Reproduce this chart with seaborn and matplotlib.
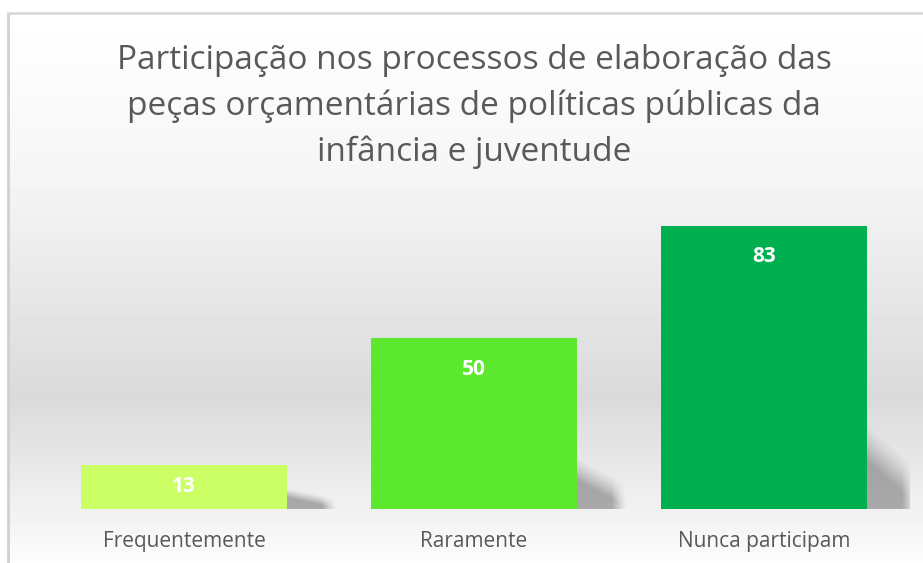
import numpy as np
import pandas as pd
import seaborn as sns
import matplotlib.pyplot as plt

# chart data
categories = ["Frequentemente", "Raramente", "Nunca participam"]
values = [13, 50, 83]
bar_colors = ["#CCFF66", "#5CE82E", "#00B050"]
title = ("Participação nos processos de elaboração das\n"
         "peças orçamentárias de políticas públicas da\n"
         "infância e juventude")

sns.set_theme(style="white")
plt.rcParams["font.family"] = ["Open Sans", "DejaVu Sans"]

W, H = 923, 563
fig = plt.figure(figsize=(W / 100, H / 100), dpi=100)

# background: vertical gray gradient inside the chart frame
bg = fig.add_axes([0, 0, 1, 1], zorder=0)
stops_y = np.array([0, 13, 180, 397, 563])
stops_v = np.array([1.0, 1.0, 0.961, 0.855, 0.99])
yy = np.arange(H)
shade = np.interp(yy, stops_y, stops_v)
img = np.repeat(shade[:, None], W, axis=1)
img[:13, :] = 1.0
img[:, :8] = 1.0
bg.imshow(img, cmap="gray", vmin=0, vmax=1, extent=(0, W, H, 0), aspect="auto")
bg.plot([8, 8], [13, H], color="#D0D0D0", lw=2)
bg.plot([8, W], [13, 13], color="#D9D9D9", lw=2)
bg.set_xlim(0, W)
bg.set_ylim(H, 0)
bg.axis("off")

left, right, base = 39, 909, 509
ax = fig.add_axes([left / W, (H - base) / H, (right - left) / W, 307 / H], zorder=1)
ax.patch.set_alpha(0)

df = pd.DataFrame({"Categoria": categories, "Valor": values})
sns.barplot(data=df, x="Categoria", y="Valor", hue="Categoria",
            palette=bar_colors, width=0.71, saturation=1, legend=False,
            linewidth=0, ax=ax, zorder=3)

# soft, blurred shadow to the lower right of each bar
u = np.linspace(0, 1, 80)[None, :]       # 0 at bar edge -> 1 far right
v = np.linspace(1, 0, 80)[:, None]       # 1 top -> 0 bottom
edge = 1 - 0.5 * u
a = np.clip((edge - v) / 0.45, 0, 1) * np.clip((1 - u) / 0.3, 0, 1)
shadow = np.zeros((80, 80, 4))
shadow[..., 3] = 0.3 * a ** 1.2
for p in list(ax.patches):
    x1 = p.get_x() + p.get_width()
    h = p.get_height()
    sw = 0.17
    sh = max(h * 0.3, 6)
    ax.imshow(shadow, extent=(x1, x1 + sw, 0, sh), aspect="auto",
              zorder=2, interpolation="bilinear")
ax.set_ylim(0, 90)
ax.set_xlim(-0.5, 2.5)

# value labels inside the top of each bar
for p, v in zip(ax.patches[:len(values)], values):
    y = max(v - 9, v / 2)
    ax.text(p.get_x() + p.get_width() / 2, y, str(v), ha="center", va="center",
            color="white", fontsize=15, fontweight="bold", zorder=4)

ax.set_xlabel("")
ax.set_ylabel("")
ax.set_yticks([])
ax.tick_params(axis="x", length=0, pad=16, labelsize=15, labelcolor="#595959")
sns.despine(ax=ax, left=True, bottom=True)

fig.text((left + right) / 2 / W, 1 - 44 / H, title, ha="center", va="top",
         fontsize=24, color="#595959", linespacing=1.49)

fig.savefig("out.png", dpi=100)
